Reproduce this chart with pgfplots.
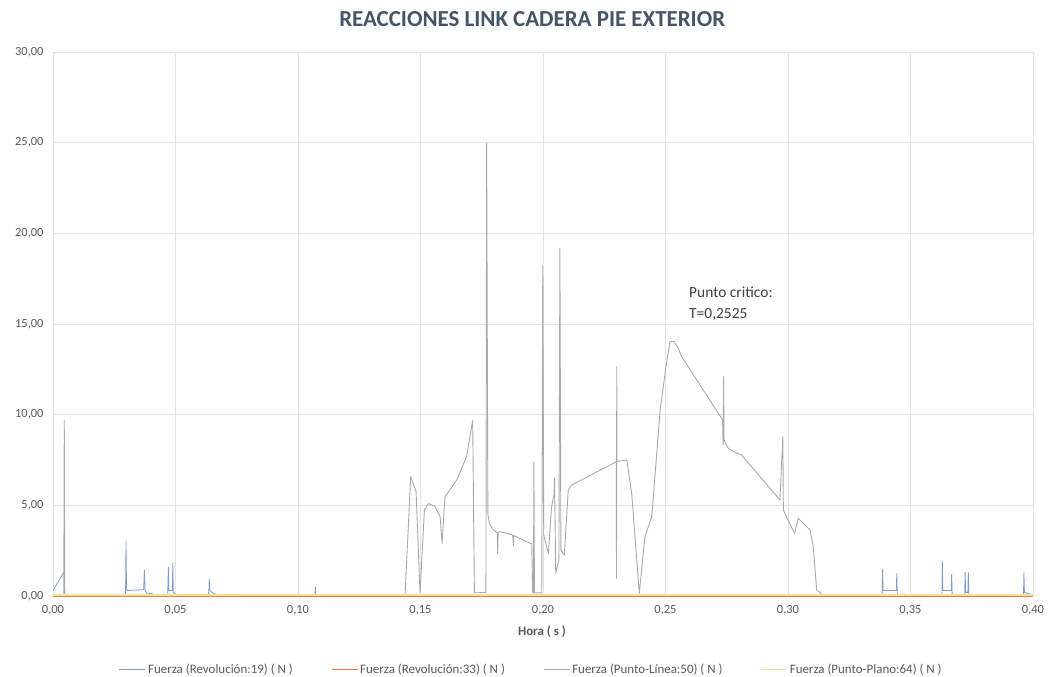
\documentclass[border=0pt]{standalone}
\usepackage{pgfplots}
\pgfplotsset{compat=1.18}
\usepackage{fontspec}
\setmainfont{Carlito}

\definecolor{serBlue}{HTML}{7F9BD3}
\definecolor{serOrange}{HTML}{ED7D31}
\definecolor{serGray}{HTML}{A9A9A9}
\definecolor{serYellow}{HTML}{F2E29A}
\definecolor{gridGray}{HTML}{E3E3E3}
\definecolor{txtGray}{HTML}{595959}
\definecolor{titleGray}{HTML}{44546A}

% short horizontal legend sample in a given colour
\pgfplotsset{
  legline/.style={legend image code/.code={\draw[draw=#1, line width=1.3bp] (0bp,0bp) -- (26bp,0bp);}},
}
\newcommand{\legtext}[1]{\textcolor{txtGray}{#1}}

\begin{document}
\begin{tikzpicture}
\begin{axis}[
  name=main,
  scale only axis,
  width=980bp, height=544bp,
  xmin=0, xmax=0.40, ymin=0, ymax=30,
  xtick={0,0.05,...,0.40},
  ytick={0,5,...,30},
  grid=major,
  major grid style={draw=gridGray, line width=0.8bp},
  axis line style={draw=none},
  major tick length=0pt,
  /pgf/number format/.cd, use comma, fixed, fixed zerofill, precision=2, assume math mode=true,
  /pgfplots/.cd,
  ticklabel style={font=\fontsize{12.5}{14}\selectfont, text=txtGray},
  xticklabel style={yshift=-6bp},
  yticklabel style={xshift=-6bp},
  scaled x ticks=false,
  title={REACCIONES LINK CADERA PIE EXTERIOR},
  title style={at={(0.489,1.05)}, anchor=center, font=\fontsize{23}{27}\selectfont\bfseries, text=titleGray},
  xlabel={Hora ( s )},
  xlabel style={at={(axis description cs:0.499,-0.066)}, anchor=center, font=\fontsize{13}{15}\selectfont\bfseries, text=txtGray},
  legend columns=4,
  legend style={at={(0.488,-0.135)}, anchor=center, draw=none, fill=none,
    font=\fontsize{13}{15}\selectfont,
    /tikz/every even column/.append style={column sep=36bp}},
  every axis plot/.append style={line join=round},
]
\addlegendimage{legline=serBlue}
\addlegendentry{\legtext{Fuerza (Revolución:19) ( N )}}
\addlegendimage{legline=serOrange}
\addlegendentry{\legtext{Fuerza (Revolución:33) ( N )}}
\addlegendimage{legline=serGray}
\addlegendentry{\legtext{Fuerza (Punto-Línea:50) ( N )}}
\addlegendimage{legline=serYellow}
\addlegendentry{\legtext{Fuerza (Punto-Plano:64) ( N )}}

% Fuerza (Revolucion:19)
\addplot[color=serBlue, line width=0.8bp, forget plot] coordinates {
(0.0000,0.30) (0.0044,1.30) (0.0046,1.34) (0.0048,0.05) (0.0296,0.05)
(0.0298,3.03) (0.0300,0.50) (0.0302,0.30) (0.0370,0.35) (0.0373,1.43)
(0.0376,0.30) (0.0385,0.10) (0.0400,0.15) (0.0420,0.05) (0.0468,0.05)
(0.0471,1.58) (0.0473,0.30) (0.0487,0.30) (0.0489,1.84) (0.0491,0.20)
(0.0500,0.10) (0.0540,0.05) (0.0634,0.05) (0.0636,0.30) (0.0638,0.92)
(0.0640,0.30) (0.0660,0.10) (0.0700,0.05) (0.1069,0.05) (0.1071,0.50)
(0.1073,0.05) (0.3384,0.05) (0.3386,1.47) (0.3388,0.30) (0.3442,0.30)
(0.3444,1.25) (0.3446,0.10) (0.3628,0.05) (0.3630,1.90) (0.3632,0.30)
(0.3666,0.30) (0.3668,1.20) (0.3670,0.10) (0.3721,0.05) (0.3723,1.30)
(0.3725,0.20) (0.3734,0.20) (0.3736,1.30) (0.3738,0.05) (0.3961,0.05)
(0.3963,1.30) (0.3965,0.20) (0.3990,0.10) (0.4000,0.10)
};

% Fuerza (Revolucion:33)
\addplot[color=serOrange, line width=0.8bp, forget plot] coordinates {
(0.0000,0.00) (0.4000,0.00)
};

% Fuerza (Punto-Linea:50)
\addplot[color=serGray, line width=0.9bp, forget plot] coordinates {
(0.0000,0.00) (0.0044,0.00) (0.0046,9.70) (0.0048,0.00) (0.1437,0.05)
(0.1460,6.58) (0.1482,5.75) (0.1498,0.17) (0.1516,4.74) (0.1532,5.10)
(0.1559,4.93) (0.1580,4.38) (0.1588,2.90) (0.1600,5.48) (0.1620,5.85)
(0.1648,6.40) (0.1688,7.68) (0.1713,9.67) (0.1720,0.17) (0.1767,0.20)
(0.1770,24.97) (0.1775,4.50) (0.1781,4.00) (0.1797,3.64) (0.1813,3.50)
(0.1815,2.35) (0.1817,3.50) (0.1824,3.55) (0.1877,3.36) (0.1879,2.75)
(0.1881,3.33) (0.1954,2.87) (0.1958,0.17) (0.1961,0.17) (0.1963,7.41)
(0.1965,0.17) (0.1995,0.17) (0.1999,18.20) (0.2003,3.40) (0.2008,3.09)
(0.2022,2.35) (0.2035,4.93) (0.2045,5.57) (0.2047,6.50) (0.2052,1.25)
(0.2065,2.00) (0.2069,19.17) (0.2073,2.54) (0.2087,2.26) (0.2103,5.85)
(0.2117,6.12) (0.2299,7.40) (0.2300,0.97) (0.2301,12.65) (0.2302,7.42)
(0.2342,7.50) (0.2362,5.66) (0.2393,0.15) (0.2416,3.27) (0.2444,4.38)
(0.2478,10.26) (0.2502,12.65) (0.2518,14.03) (0.2535,14.03) (0.2552,13.66)
(0.2566,13.20) (0.2733,9.71) (0.2735,8.33) (0.2737,12.10) (0.2739,8.60)
(0.2756,8.15) (0.2776,7.97) (0.2810,7.78) (0.2967,5.30) (0.2979,8.79)
(0.2981,4.74) (0.3000,4.19) (0.3027,3.46) (0.3042,4.29) (0.3090,3.64)
(0.3103,2.72) (0.3117,0.33) (0.3130,0.20) (0.3140,0.05) (0.4000,0.05)
};

% Fuerza (Punto-Plano:64)
\addplot[color=serYellow, line width=1.6bp, forget plot] coordinates {
(0.0000,0.05) (0.4000,0.05)
};

\node[anchor=base west, font=\fontsize{15.5}{18}\selectfont, text=black!75, inner sep=0pt]
  at (axis cs:0.2596,16.44) {Punto critico:};
\node[anchor=base west, font=\fontsize{15.5}{18}\selectfont, text=black!75, inner sep=0pt]
  at (axis cs:0.2596,15.28) {T=0,2525};
\end{axis}
\pgfresetboundingbox
\useasboundingbox ([shift={(-53bp,-81bp)}]main.south west) rectangle ([shift={(17bp,52bp)}]main.north east);
\end{tikzpicture}
\end{document}
